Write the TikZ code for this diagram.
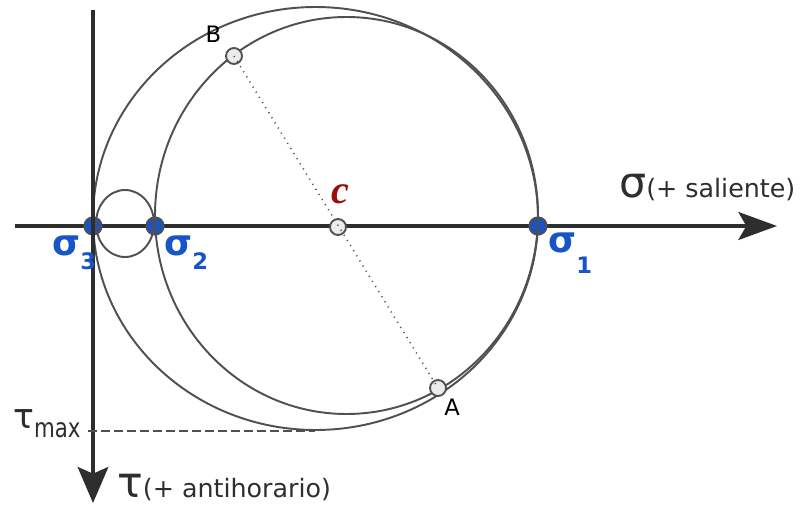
\documentclass[tikz,border=0pt]{standalone}
\usepackage{fontspec}
\setmainfont{DejaVu Sans}
\newfontfamily\lserif{Liberation Serif}
\usetikzlibrary{arrows.meta}
\definecolor{axisc}{HTML}{2E2E2E}
\definecolor{circc}{HTML}{505050}
\definecolor{sigblue}{HTML}{1654C8}
\definecolor{cred}{HTML}{9A0C0C}
\definecolor{ptfill}{HTML}{ECECEC}
\begin{document}
\begin{tikzpicture}[x=0.75pt,y=-0.75pt,
  axis/.style={draw=axisc, line width=2.3pt},
  mohr/.style={draw=circc, line width=1.45pt},
  sdot/.style={circle, fill=sigblue, draw=circc, line width=1.4pt, minimum size=13pt, inner sep=0pt},
  pdot/.style={circle, fill=ptfill, draw=circc, line width=1.4pt, minimum size=12pt, inner sep=0pt},
  siglab/.style={text=sigblue, font=\bfseries\fontsize{27}{30}\selectfont, anchor=base west, inner sep=0pt},
  ptlab/.style={font=\fontsize{17}{20}\selectfont, anchor=base, inner sep=0pt},
  axlab/.style={text=axisc, anchor=base west, inner sep=0pt}
]
\useasboundingbox (0,0) rectangle (806,506);
% axis end points
\coordinate (hs) at (15,226);
\coordinate (he) at (777,226);
\coordinate (vs) at (93,10);
\coordinate (ve) at (93,503);
% horizontal axis
\draw[axis, -{Stealth[length=29pt,width=21pt,inset=6pt]}] (hs) -- (he);
% sigma points
\node[sdot] (s3) at (93,226) {};
\node[sdot] (s2) at (155,226) {};
\node[sdot] (s1) at (538,226) {};
% Mohr circles
\draw[mohr] (315.5,218.5) ellipse [x radius=222.5, y radius=211.5];
\draw[mohr] (346.5,215.5) ellipse [x radius=191.5, y radius=198.5];
\draw[mohr] (125,223.5) ellipse [x radius=29, y radius=33.5];
% vertical axis
\draw[axis, -{Stealth[length=27pt,width=23pt,inset=5pt]}] (vs) -- (ve);
% tau max dashed line
\coordinate (tm1) at (88,431);
\coordinate (tm2) at (315,431);
\draw[draw=circc, line width=1.1pt, dash pattern=on 6.75pt off 3pt] (tm1) -- (tm2);
% points A, B, C
\node[pdot] (C) at (338,227) {};
\node[pdot] (B) at (234,56) {};
\node[pdot] (A) at (438,388) {};
\draw[draw=circc, line width=1.2pt, dash pattern=on 0.8pt off 3.7pt] (B.center) -- (A.center);
% labels
\node[ptlab] (lB) at (213.5,43) {B};
\node[ptlab] (lA) at (452,415) {A};
\node[text=cred, font=\lserif\bfseries\itshape\fontsize{30}{34}\selectfont, anchor=base, inner sep=0pt] (lC) at (340,203) {c};
\node[siglab] (l3) at (52,255) {σ\raisebox{-10.5pt}{\fontsize{17}{20}\selectfont 3}};
\node[siglab] (l2) at (164,255) {σ\raisebox{-10.5pt}{\fontsize{17}{20}\selectfont 2}};
\node[siglab] (l1) at (548,252) {σ\raisebox{-15.75pt}{\fontsize{17}{20}\selectfont 1}};
\node[axlab] (lsig) at (619,197) {{\fontsize{32}{34}\selectfont σ}{\fontsize{19}{22}\selectfont (+ saliente)}};
\node[axlab] (ltau) at (117,497) {{\fontsize{32}{34}\selectfont τ}{\fontsize{19}{22}\selectfont (+ antihorario)}};
\node[axlab] (ltm) at (13,428) {{\fontsize{26}{28}\selectfont τ}\raisebox{-6.75pt}{\scalebox{0.8}[1]{\fontsize{20}{24}\selectfont max}}};
\end{tikzpicture}
\end{document}
